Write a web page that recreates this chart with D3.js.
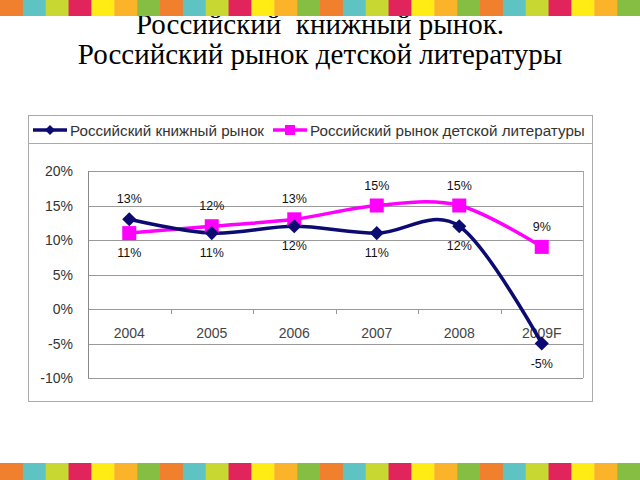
<!DOCTYPE html>
<html><head><meta charset="utf-8">
<script src="https://cdn.jsdelivr.net/npm/d3@7"></script>
<style>body{margin:0;background:#fff;}svg{display:block;}</style>
</head><body>
<script>
const categories = ["2004","2005","2006","2007","2008","2009F"];
const bookMarket = [13, 11, 12, 11, 12, -5];
const childrenMarket = [11, 12, 13, 15, 15, 9];
const bookLabelPos = ["above","below","below","below","below","below"];
const childLabelPos = ["below","above","above","above","above","above"];
const yTicks = [-10,-5,0,5,10,15,20];
const seriesNames = ["Российский книжный рынок","Российский рынок детской литературы"];
const stripeColors = ["#f07f2e","#5fc3c4","#c8d732","#e2245c","#ffec14","#fbb42a","#86be43"];
const titleLines = ["Российский  книжный рынок.","Российский рынок детской литературы"];

const W=640,H=480;
const svg=d3.select("body").append("svg").attr("width",W).attr("height",H);

// title
svg.append("g").selectAll("text").data(titleLines).join("text")
  .attr("x",320).attr("y",(d,i)=>34+i*30).attr("text-anchor","middle")
  .attr("font-family","'Liberation Serif','Times New Roman',serif").attr("font-size",29).attr("fill","#000")
  .style("white-space","pre").attr("xml:space","preserve")
  .text(d=>d);

// stripes
const sw=W/28;
const stripeIdx=d3.range(28);
svg.append("g").selectAll("rect").data(stripeIdx).join("rect")
  .attr("x",i=>i*sw).attr("y",0).attr("width",sw+0.5).attr("height",16)
  .attr("fill",i=>stripeColors[i%7]);
svg.append("g").selectAll("rect").data(stripeIdx).join("rect")
  .attr("x",i=>i*sw).attr("y",463).attr("width",sw+0.5).attr("height",17)
  .attr("fill",i=>stripeColors[i%7]);

// chart frame
svg.append("rect").attr("x",28.5).attr("y",115.5).attr("width",564).attr("height",286)
  .attr("fill","#fff").attr("stroke","#aaa").attr("stroke-width",1);
// legend box
svg.append("rect").attr("x",28.5).attr("y",115.5).attr("width",564).attr("height",28)
  .attr("fill","#fff").attr("stroke","#aaa").attr("stroke-width",1);

const x=d3.scaleBand().domain(categories).range([88,583]);
const y=d3.scaleLinear().domain([-10,20]).range([378,171]);
const cx=d=>x(d)+x.bandwidth()/2;

// gridlines
svg.append("g").selectAll("line").data(yTicks).join("line")
  .attr("x1",88).attr("x2",583).attr("y1",d=>Math.round(y(d))+0.5).attr("y2",d=>Math.round(y(d))+0.5)
  .attr("stroke","#999").attr("stroke-width",1);
// plot borders
svg.append("line").attr("x1",88.5).attr("x2",88.5).attr("y1",y(20)).attr("y2",y(-10)).attr("stroke","#888");
svg.append("line").attr("x1",583.5).attr("x2",583.5).attr("y1",y(20)).attr("y2",y(-10)).attr("stroke","#aaa");

// y axis labels
svg.append("g").selectAll("text").data(yTicks).join("text")
  .attr("x",73).attr("y",d=>y(d)+5).attr("text-anchor","end")
  .attr("font-family","'Liberation Sans',Arial,sans-serif").attr("font-size",14).attr("fill","#333")
  .text(d=>d+"%");

// ticks on zero line at category boundaries
const boundaries=categories.slice(1).map(c=>x(c));
svg.append("g").selectAll("line").data(boundaries).join("line")
  .attr("x1",d=>Math.round(d)+0.5).attr("x2",d=>Math.round(d)+0.5)
  .attr("y1",Math.round(y(0))).attr("y2",Math.round(y(0))+5).attr("stroke","#999");

// category labels
svg.append("g").selectAll("text").data(categories).join("text")
  .attr("x",d=>cx(d)).attr("y",y(0)+29).attr("text-anchor","middle")
  .attr("font-family","'Liberation Sans',Arial,sans-serif").attr("font-size",14).attr("fill","#444")
  .text(d=>d);

const line=d3.line().x(d=>cx(d[0])).y(d=>y(d[1])).curve(d3.curveCardinal.tension(0));
const navy="#0b0b72", mag="#ff00ff";

const childPts=categories.map((c,i)=>[c,childrenMarket[i]]);
const bookPts=categories.map((c,i)=>[c,bookMarket[i]]);

svg.append("path").datum(childPts).attr("d",line).attr("fill","none").attr("stroke",mag).attr("stroke-width",3.5);
svg.append("path").datum(bookPts).attr("d",line).attr("fill","none").attr("stroke",navy).attr("stroke-width",3.5);

svg.append("g").selectAll("rect").data(childPts).join("rect")
  .attr("x",d=>cx(d[0])-7).attr("y",d=>y(d[1])-7).attr("width",14).attr("height",14).attr("fill",mag);
svg.append("g").selectAll("path").data(bookPts).join("path")
  .attr("transform",d=>`translate(${cx(d[0])},${y(d[1])}) rotate(45)`)
  .attr("d",d3.symbol().type(d3.symbolSquare).size(100)).attr("fill",navy);

// data labels
function labels(pts,pos){
  svg.append("g").selectAll("text").data(pts).join("text")
    .attr("x",d=>cx(d[0])).attr("y",(d,i)=>y(d[1])+(pos[i]==="above"?-16:24))
    .attr("text-anchor","middle")
    .attr("font-family","'Liberation Sans',Arial,sans-serif").attr("font-size",12.5).attr("fill","#111")
    .text(d=>d[1]+"%");
}
labels(childPts,childLabelPos);
labels(bookPts,bookLabelPos);

// legend
const lg=svg.append("g").attr("font-family","'Liberation Sans',Arial,sans-serif").attr("font-size",15.2).attr("fill","#333");
lg.append("line").attr("x1",33).attr("x2",67).attr("y1",130).attr("y2",130).attr("stroke",navy).attr("stroke-width",3.5);
lg.append("path").attr("transform","translate(50,130) rotate(45)").attr("d",d3.symbol().type(d3.symbolSquare).size(50)).attr("fill",navy);
lg.append("text").attr("x",70).attr("y",135.5).text(seriesNames[0]);
lg.append("line").attr("x1",273).attr("x2",307).attr("y1",130).attr("y2",130).attr("stroke",mag).attr("stroke-width",3.5);
lg.append("rect").attr("x",285).attr("y",125).attr("width",10).attr("height",10).attr("fill",mag);
lg.append("text").attr("x",310).attr("y",135.5).text(seriesNames[1]);
</script>
</body></html>
